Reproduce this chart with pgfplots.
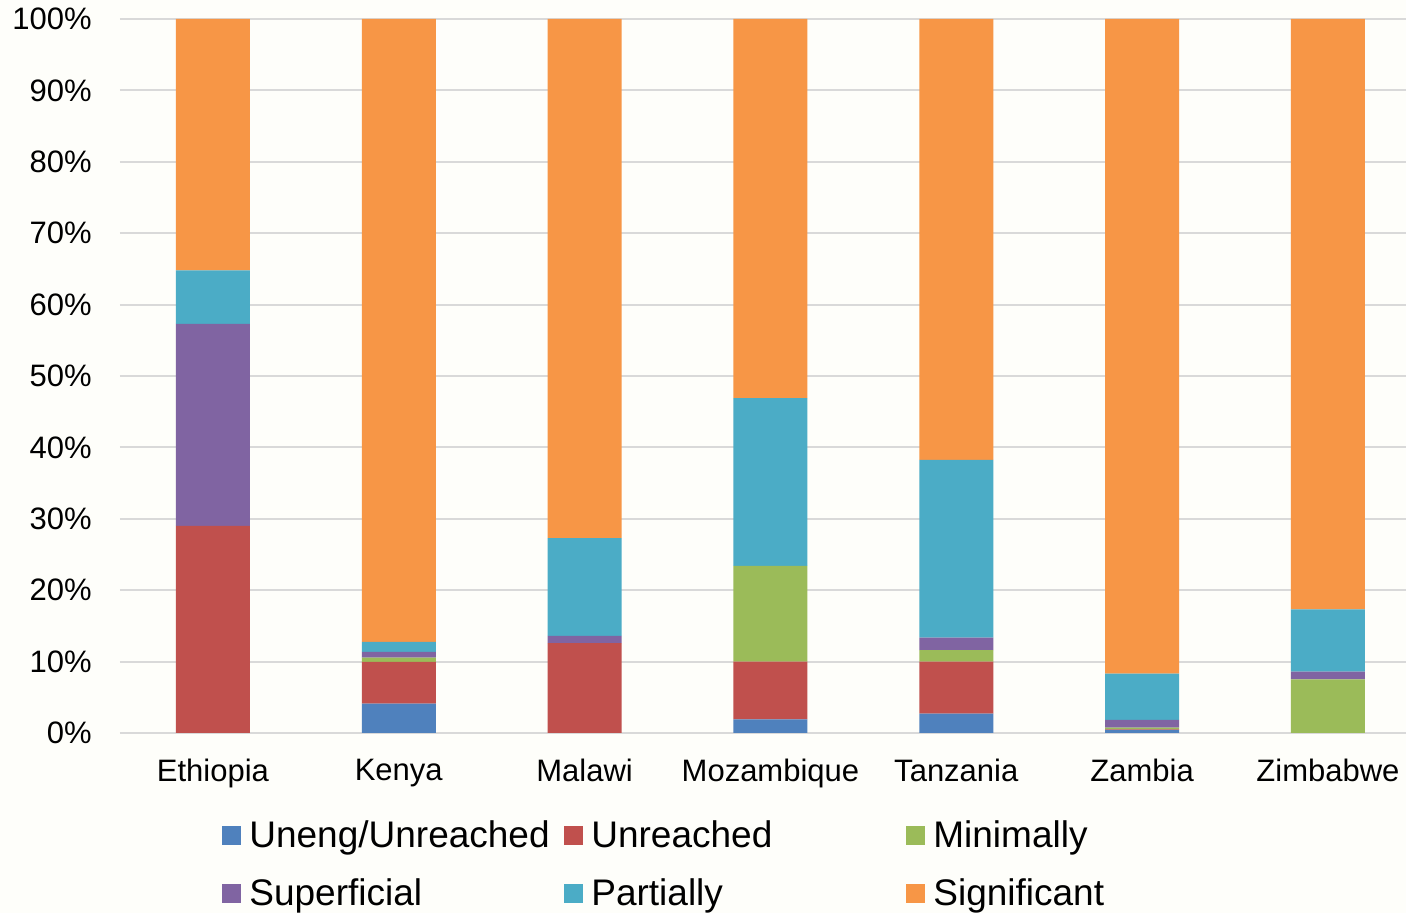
\documentclass[border=0pt]{standalone}
\usepackage{pgfplots}
\pgfplotsset{compat=1.18}
\usepackage{pgfplotstable}
\usepackage{fontspec}
\setmainfont{Liberation Sans}

\definecolor{cblue}{HTML}{4F81BD}
\definecolor{cred}{HTML}{C0504D}
\definecolor{cgreen}{HTML}{9BBB59}
\definecolor{cpurple}{HTML}{8064A2}
\definecolor{cteal}{HTML}{4BACC6}
\definecolor{corange}{HTML}{F79646}
\definecolor{gridgray}{HTML}{D9D9D9}
\definecolor{bg}{HTML}{FEFEFA}
\pagecolor{bg}

% shares per country, in percent
\pgfplotstableread{
x  uneng unreached minimally superficial partially significant
0  0     29.0      0         28.3        7.5       35.2
1  4.1   5.85      0.6       0.8         1.4       87.25
2  0     12.6      0         1.0         13.7      72.7
3  1.9   8.1       13.4      0           23.5      53.1
4  2.7   7.3       1.6       1.75        24.9      61.75
5  0.45  0.05      0.25      1.1         6.45      91.7
6  0     0         7.5       1.1         8.7       82.7
}\shares

\newcommand{\legtxt}[1]{\makebox[155.5pt][l]{\vphantom{Ug}#1}}

\begin{document}
\begin{tikzpicture}
\begin{axis}[
    name=ax,
    scale only axis,
    width=643pt, height=357pt,
    ybar stacked,
    bar width=37pt,
    xmin=-0.5, xmax=6.42,
    ymin=0, ymax=100,
    xtick={0,...,6},
    xticklabels={Ethiopia,Kenya,Malawi,Mozambique,Tanzania,Zambia,Zimbabwe},
    ytick={0,10,...,100},
    yticklabel={\pgfmathprintnumber{\tick}\%},
    /pgf/number format/assume math mode=true,
    ymajorgrids,
    grid style={draw=gridgray, line width=1pt},
    axis line style={draw=none},
    major tick length=0pt,
    tick label style={font=\fontsize{15.5}{18}\selectfont},
    yticklabel style={anchor=east, inner sep=0pt, xshift=-14pt},
    xticklabel style={anchor=north, inner sep=0pt, yshift=-13pt},
    legend columns=3,
    legend style={
      draw=none, fill=none, inner sep=0pt,
      at={(rel axis cs:0.0793,-0.116)}, anchor=north west,
      font=\fontsize{18.5}{22}\selectfont,
      column sep=0pt, row sep=10.5pt,
      /tikz/every odd column/.style={column sep=2pt},
      cells={anchor=west},
    },
    legend image code/.code={\fill[#1] (0pt,-4.75pt) rectangle (9.5pt,4.75pt);},
  ]
\addplot[fill=cblue, draw=none] table[x=x, y=uneng] {\shares};
\addplot[fill=cred, draw=none] table[x=x, y=unreached] {\shares};
\addplot[fill=cgreen, draw=none] table[x=x, y=minimally] {\shares};
\addplot[fill=cpurple, draw=none] table[x=x, y=superficial] {\shares};
\addplot[fill=cteal, draw=none] table[x=x, y=partially] {\shares};
\addplot[fill=corange, draw=none] table[x=x, y=significant] {\shares};
\legend{\legtxt{Uneng/Unreached}, \legtxt{Unreached}, \legtxt{Minimally},
        \legtxt{Superficial}, \legtxt{Partially}, \legtxt{Significant}}
\end{axis}
\pgfresetboundingbox
\path[use as bounding box] ([shift={(-60pt,-90pt)}]ax.south west)
  rectangle ([shift={(0pt,9.5pt)}]ax.north east);
\end{tikzpicture}
\end{document}
